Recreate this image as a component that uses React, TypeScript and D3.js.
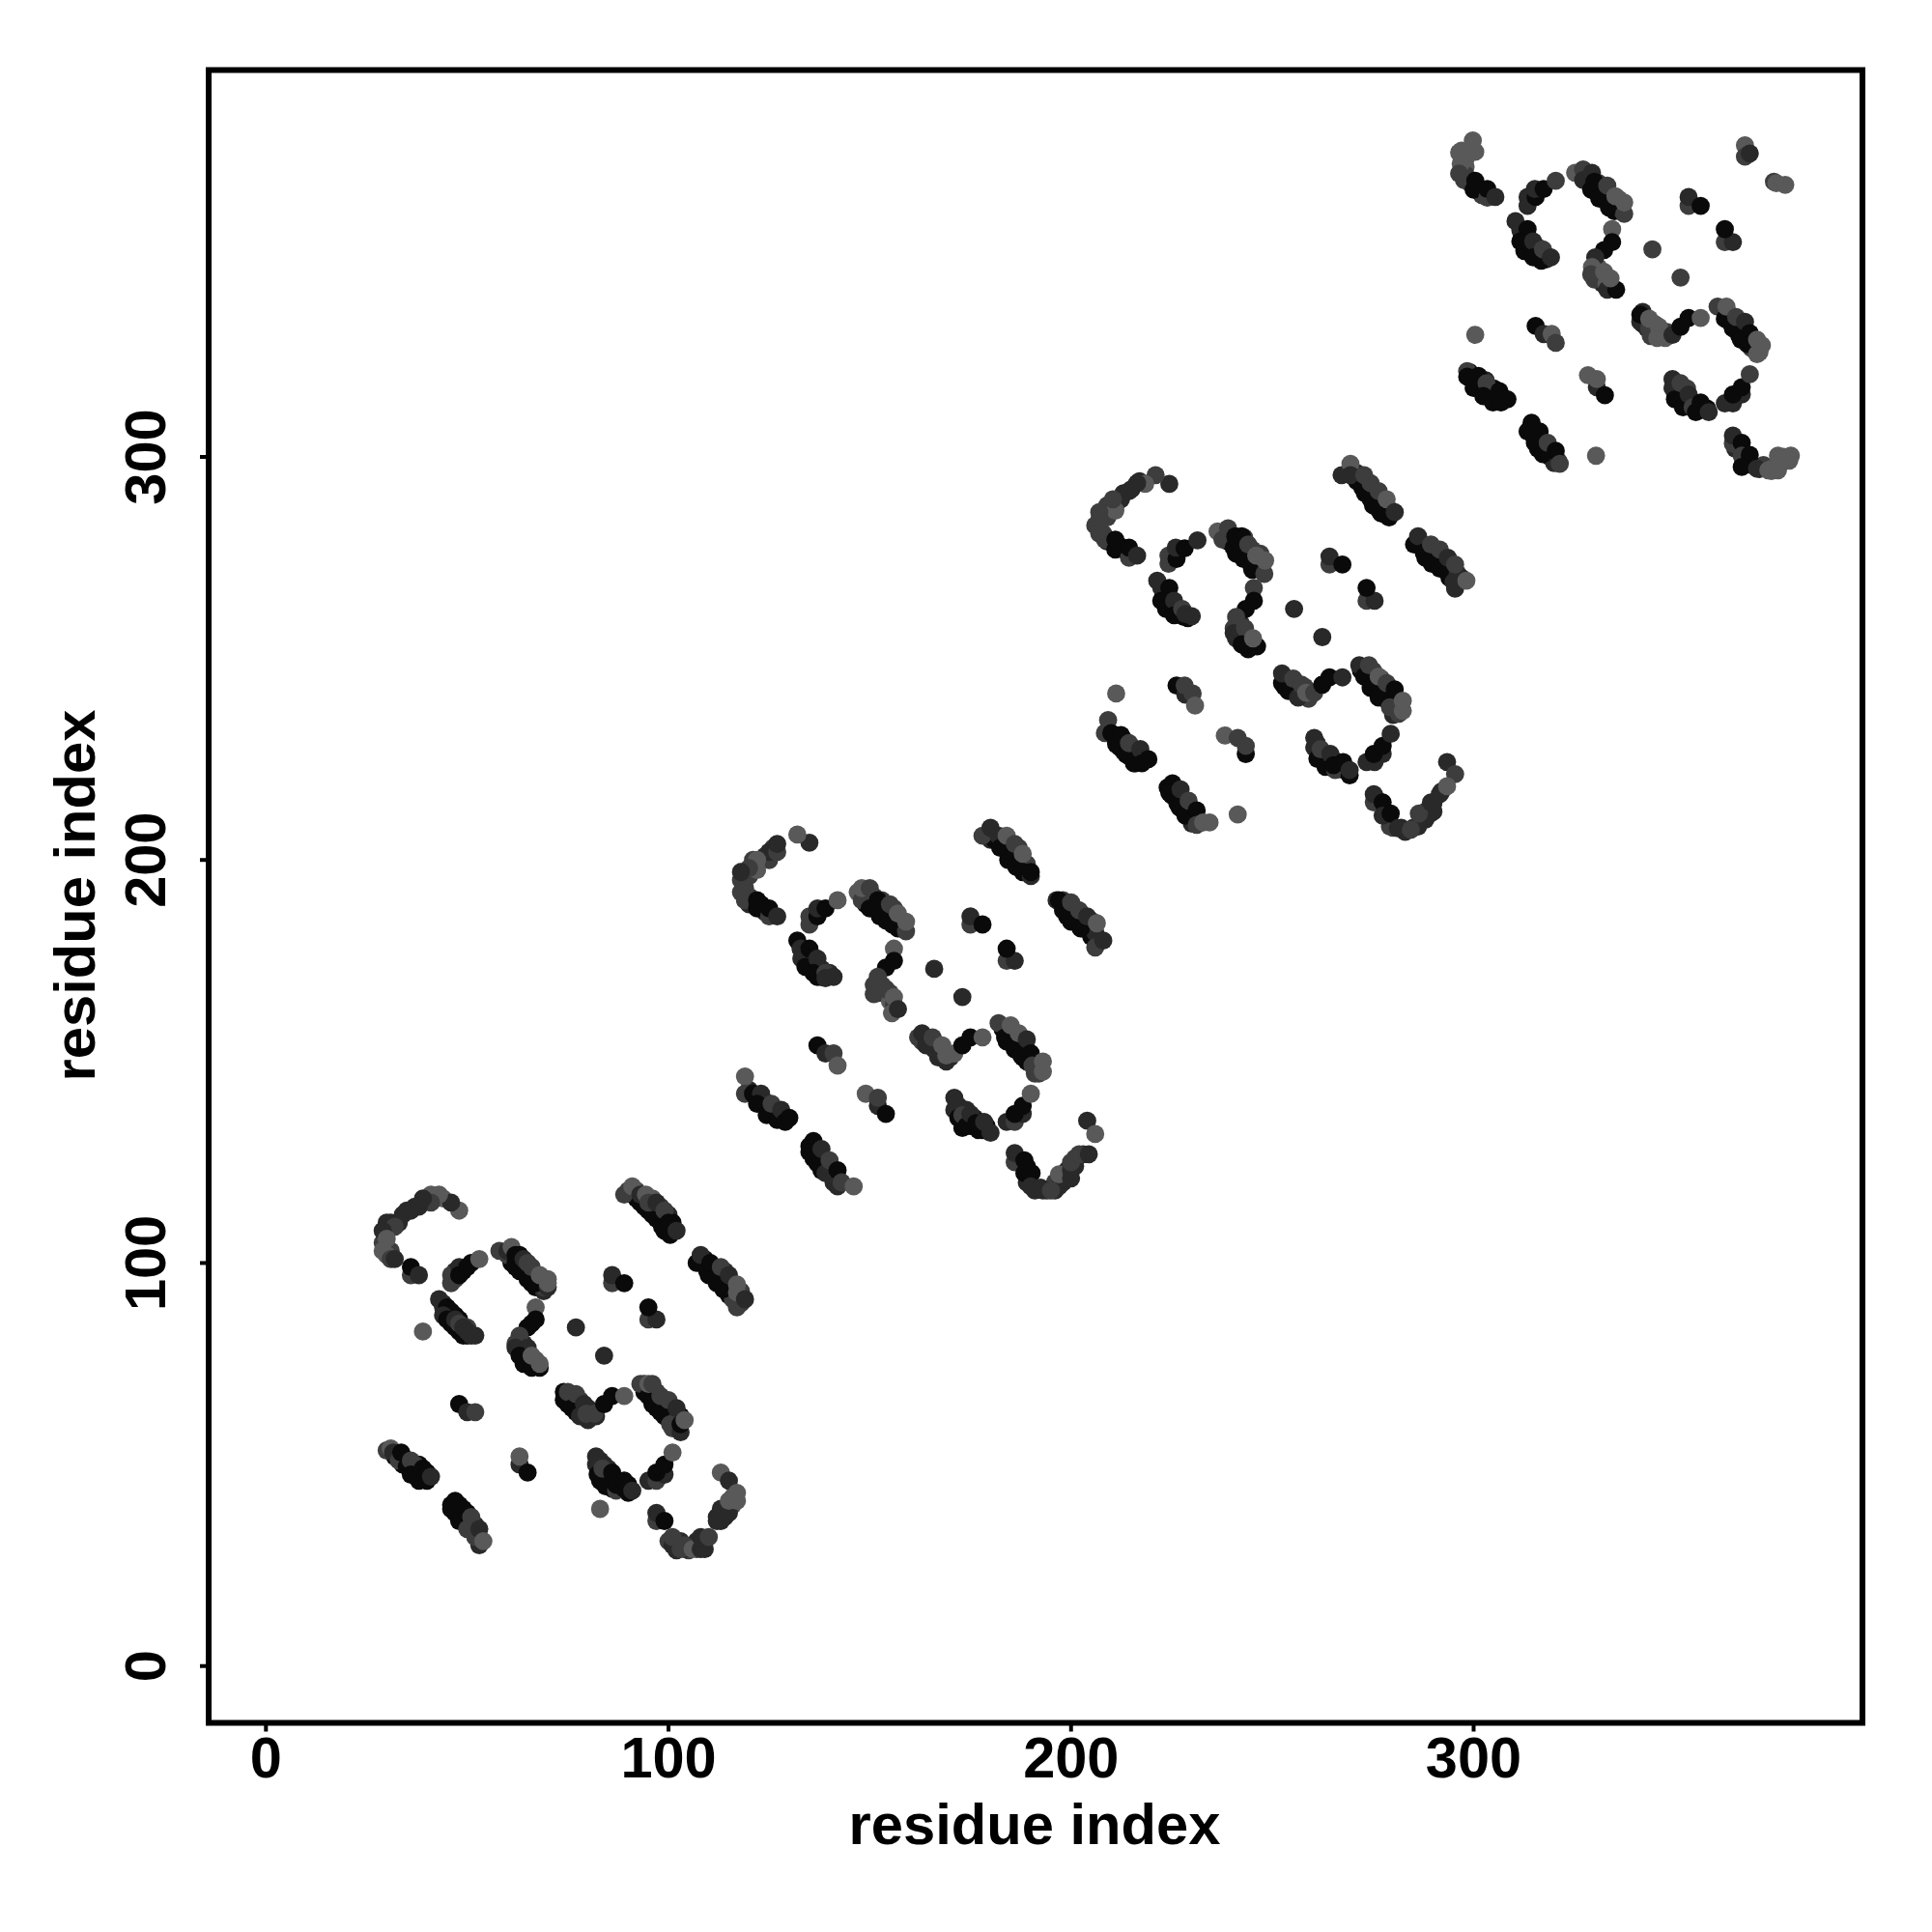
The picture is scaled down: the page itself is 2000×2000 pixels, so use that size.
import React from "react";
import * as d3 from "d3";

const K = 0.04, D = 0.16, M = 0.24, L = 0.35;
type P = [number, number, number];

const tickValues = [0, 100, 200, 300];
const axisLabel = "residue index";

const underA: P[] = [
[92,116,K],[93,115,K],[95,113,K],[97,111,K],[99,109,K],[99,108,K],[101,108,K],[90,118,M],[92,118,M],[96,116,L],[98,114,M],[100,112,D],[101,110,K],
[108,100,K],[109,101,K],[110,97,K],[111,99,K],[112,98,D],[112,95,K],[113,95,K],[114,96,D],[114,98,D],[115,92,K],[116,95,M],[116,91,M],[118,90,M],[118,93,M],
[44,89,D],[45,87,K],[46,85,K],[46,86,K],[48,83,K],[47,87,K],[48,86,K],[50,84,M],[50,82,K],
[61,103,M],[61,100,K],[62,99,K],[63,100,K],[63,98,K],[65,98,K],[65,96,K],[66,95,K],[67,97,M],[67,94,K],[68,95,K],[69,93,D],[69,96,L],[69,94,M],
[63,80,D],[64,78,K],[64,80,D],[65,76,K],[65,78,D],[67,76,L],[67,75,K],[66,85,K],
[32,52,K],[34,50,K],[34,52,K],[35,51,K],[36,49,K],[37,48,K],[38,48,K],[38,50,K],[39,47,K],[40,48,K],
[46,40,K],[47,38,K],[47,39,K],[48,40,K],[49,37,K],[49,36,M],[50,36,K],[50,38,K],[51,35,M],[52,35,D],[52,33,D],[53,32,M],
[75,66,K],[76,66,K],[77,64,K],[78,65,K],[77,63,K],[78,66,M],[80,64,D],[80,63,M],[80,61,D],[82,62,D],[75,65,K],
[94,69,K],[94,68,K],[97,68,M],[97,64,K],[97,66,K],[99,65,M],[99,62,K],[101,61,K],[101,63,D],[101,59,M],[103,62,K],[94,70,D],
[83,46,K],[85,46,K],[85,47,D],[85,49,D],[84,50,D],[83,51,D],[86,44,K],[88,44,K],[88,45,D],[90,45,K],[90,43,K],
[116,40,L],[113,36,D],[114,37,D],[114,39,D],[113,39,D],[116,42,L],[112,37,D],[100,31,M],[102,30,M],[102,28.7,D],[105,29,M],[107,29,M],[107,31,D],[109,31,D],[109,29,D],[105,28.7,M],[104,29,D],[103,31,D],
[31,110,D],[30,110,D],[34,112,D],[35,113,D],[37,114,D],[40,116,M],[42,116,M],[44,116,L],[29,105,M],[30,104,M],[31,103,M],
[47,96,M],[47,98,D],[49,98,K],[51,100,K],
];

const clusterA: P[] = [
[48,113,L],[46,115,D],[43,117,L],[41,117,L],[41,115,M],[39,116,D],[38,114,D],[36,113,D],[33,110,D],[32,109,M],[29,108,D],[30,106,L],[29,103,L],[30,102,L],[31,101,M],[32,101,D],[36,97,M],[36,99,K],[38,97,D],
[46,95,M],[46,97,M],[48,99,D],[48,97,K],[50,99,K],[53,101,L],
[43,91,D],[44,90,D],[45,89,K],[46,88,K],[44,87,D],[45,86,K],[49,82,K],[47,84,K],[47,86,D],[48,85,M],[49,84,D],[51,82,D],[50,83,D],[52,82,D],[39,83,L],
[58,103,M],[60,102,M],[60,103,D],[61,104,L],[62,100,K],[62,102,K],[63,102,K],[64,98,K],[64,101,D],[66,96,K],[65,100,M],[67,95,K],[66,99,M],[68,97,L],[70,94,D],[70,96,L],[70,95,L],
[67,89,L],[67,86,K],[65,84,K],[63,82,M],[62,80,M],[62,79,D],[65,79,D],[63,77,K],[64,75,K],[66,74,K],[68,74,K],[66,77,L],[68,75,L],
[77,84,D],[84,77,D],[86,95,M],[86,97,D],[89,95,K],[95,86,M],[97,86,D],[95,89,K],
[89,117,M],[91,119,L],[94,114,K],[93,117,D],[94.4,117,L],[96,112,K],[95,115,M],[97,115,D],[98.4,109,K],[100.4,107,K],[99,113,M],[100,110,K],[102,108,D],
[107,100,K],[108,102,D],[109.6,98,K],[110.4,100,K],[111.6,96,K],[113,99,M],[113.6,93.5,K],[115,97,D],[117,89,M],[117,94.7,L],[117,92.7,L],[119,91,D],
[48,65,K],[50,63,D],[52,63,M],
[30,53.5,M],[31,54,L],[31.6,53,D],[33,51,M],[33.6,53,K],[35,49.5,K],[36,51,M],[37,50,M],[36,47.5,K],[38,46,K],[39,49,K],[40,46,K],[41,47,D],
[47,41,K],[46,39,K],[49,39,K],[48,36,K],[51,37,M],[50,34,M],[53,30,D],[52,32,M],[53,34,D],[54,31,L],
[63,50,D],[63,52,L],[65,48,K],
[74,68,K],[74,66,K],[75,68,M],[76,64,K],[77,67.5,M],[78,62,D],[79,65,D],[79.6,62.6,M],[81.6,62.6,M],[84,65,K],[86,67,K],[89,67,L],
[93,70,M],[95,67,K],[95,70,L],[96,65,K],[96,70,M],[98,63,K],[98,67,M],[100,66,M],[100.4,60,M],[103,58,D],[103,60,K],[102,64,D],[104,61,L],
[95,46,D],[97,46,M],[99,47.5,D],[97,48,K],[99,50,K],[101,53,L],
[82,52,D],[82,50,D],[82.4,47.5,K],[83.6,49,M],[84.4,44.6,K],[87,43.5,M],[86,48,K],[87,45,K],[89,44,K],[89,46,K],[91,43.5,D],[83,39,L],
[113,48,L],[115,46,D],[112,36,D],[113,38,D],[115,38,D],[115,41,L],[117,41,L],[117,43,L],
[97,36,M],[97,38,D],[99,36,K],[101,30,D],[101,32,M],[103,29,M],[104,30,M],[106,29,L],[108,29,D],[108,32,D],[110,32,M],
];

const underB: P[] = [
[180,205,D],[181,205,K],[183,204,K],[185,202,K],[187,200,K],[188,198,K],[189,199,M],[187,203,M],[188,197,K],
[198,190,M],[199,188,K],[199,186,K],[201,185,K],[201,188,M],[203,183,K],[203,186,D],[205,181,K],[205,185,M],[206,182,D],[207,180,D],
[133,178,K],[134,176,K],[135,175,K],[136,174,K],[136,176,D],[138,173,D],[138,171,K],[140,172,D],
[149,191,K],[149,189,K],[151,191,M],[151,188,K],[153,187,K],[153,190,M],[154,185,K],[156,188,M],[157,183,K],[158,185,L],
[152,168,M],[153,169,M],[152,167,D],[155,167,M],[155,165,L],[156,164,M],
[120,143,D],[122,141,K],[123,140,K],[124,140,K],[125,137,K],[126,137,K],[127,138,D],[128,136,K],[129,136,K],
[135,129,K],[136,126,K],[137,128,K],[137,126,K],[138,125,K],[138,123,K],[139,125,M],[140,122,D],[141,123,D],[141,120,D],[142,121,M],
[163,155,M],[165,154,D],[166,153,D],[166,155,M],[168,152,D],[167,152,M],[169,150,D],[170,151,D],
[183,158,K],[184,158,K],[184,155,K],[186,156,M],[186,153,K],[188,155,M],[188,151,K],[189,150,K],[189,153,K],[191,150,M],[191,147,M],
[172,139,D],[172,137,K],[174,136,K],[174,138,D],[175,134,K],[176,136,D],[177,135,K],[178,133,K],[179,134,K],[173,133.5,K],
[203,127,D],[201,126,M],[201,124,D],[199,123,D],[198,121,D],[198,120,D],[196,120,M],[196,118,D],[194,118,D],[193,118,D],[191,118,D],[189,120,D],[189,124,K],
[119,196,M],[120,196,M],[121,198,M],[123,200,D],[124,201,D],[126,203,M],[120,191,M],[119,193,M],[123,189,K],[124,187,D],[124,188,K],[120,189,D],
];

const clusterB: P[] = [
[135,204.3,D],[132,206.3,L],[125,200,M],[125,202,D],[127,202,M],[127,204,D],[121,200,M],[122,197.5,L],[122,200,L],[120,198,M],[118,195,M],[118,197,D],[118,192,M],[119,190,M],[122,188,K],[122,190,K],[125,186,M],[125,188,K],[127,186,D],
[135,184,M],[135,186,M],[137,186,K],[137,188,D],[139,188,K],[142,190,L],
[132,180,K],[132.8,178,D],[133,175.5,D],[135,178,K],[134,173.5,K],[137,175.5,D],[136,172,K],[137,171,K],[139,172,M],[139,170.7,D],[141,171,D],
[147,192,L],[148,190,M],[148,193,L],[150,193,M],[150,188,K],[152,190,K],[152.5,186,K],[155,189,M],[155.6,184,K],[157,186.7,L],[159,182.3,M],[159,184.7,L],
[156,178,L],[156,175,K],[154,173.3,K],[152,171,M],[151,169,M],[151,166.7,M],[154,168,M],[156,166,L],[155.5,162,L],[157,163,D],
[166,173,D],[173,166,D],[175,184,M],[175,186,D],[178,184,K],[184,175,M],[186,175,D],[184,178,K],
[178,206,M],[180,208,D],[182,206,D],[182.4,203,K],[184,206,L],[184.4,200,K],[186,204,M],[186.4,198.3,K],[188,201.5,L],[190,196,D],[190,197,K],
[196.4,190,D],[197,190,K],[198,187.5,K],[200,184.7,K],[200,189.5,M],[202,187.5,M],[202.4,183,K],[204,186,D],[206,178.3,M],[206.4,184.3,L],[208,180,D],
[137,154,K],[139,152,D],[141,152,M],[142,149,L],
[119,146.3,L],[119,142,M],[121,142,K],[123,142,D],[122,139.5,K],[124.4,136.7,K],[125.6,139.5,M],[127,135.5,K],[128,138,D],[129,135,K],[130,136,K],
[136,130.3,K],[135,127.5,K],[137,124.7,K],[138,128.3,D],[139,122.3,D],[140,125.5,M],[142,123,K],[142,119,D],[143,120,M],[146,119,L],
[149,142,L],[152,139,D],[152,141,M],[154,137,K],
[162,156,M],[163,157,D],[164,154,D],[165.6,156,M],[167,151,D],[168,154,L],[169,151.5,L],[171,152,L],[173,154,K],[175,156,K],[178,156,L],
[182,159.5,M],[183.6,156,K],[185,159,L],[185.6,154,K],[187,157,L],[187.6,151.5,K],[189,155.5,D],[190,152,K],[190.4,149,M],[192,147,M],[193,150,L],[193,147.5,L],
[184,135,D],[186,135,M],[188,137,D],[186,137,K],[188,139,K],[190,142,L],
[171,141,D],[171,138,D],[172,136,K],[173,136.7,M],[174,134,K],[175,137,D],[177,133,K],[176.4,134.7,K],[178.4,135,D],[180,132.3,D],
[204,135.3,D],[206,132,L],[197,119,D],[197,122,L],[200,121,D],[200,123,D],[200,125,M],[202,127,M],[204.4,127,D],
[186,125,M],[186,127.3,D],[188.4,125.5,K],[188.4,122.3,K],[190.2,122.3,K],[190,119,D],[192.4,118.7,D],[195,118,M],
];

const underC: P[] = [
[213,291,D],[215,292,D],[217,294,D],[209,288,M],[208,286,M],[206,283,M],[207,282,M],[212,278,K],[213,277,K],[208,281,M],[209,279,D],[211,288,M],[209,285,M],
[271,294,K],[273,291,K],[275,288,K],[277,286,K],[279,285,K],[271,296,D],[275,292,M],[277,290,M],[279,287,D],
[287,278,D],[288,275,K],[290,275,K],[290,277,M],[292,275,D],[293,272,K],[294,271,K],[294,270,K],[295,269,D],[296,271,D],[297,270,D],
[223,266,K],[224,265,K],[224,263,K],[226,262,K],[226,263,D],[227,261,K],[229,260,K],
[238,281,D],[239,279,K],[241,278,K],[241,276,K],[243,276,K],[243,280,M],[245,277,M],[245,272,K],[246,273,K],[247,272,K],[247,276,M],
[241,258,M],[241,255,D],[242,256,D],[243,255,K],[244,254,K],[245,253,K],[242,259,D],
[209,232,D],[211,230,K],[213,230,K],[212,228,K],[213,227,K],[214,226,K],[215,227,K],[216,226,D],[216,224,K],[218,225,K],
[224,218,K],[225,216,K],[226,217,K],[227,215,K],[227,213,K],[228,214,D],[229,212,K],[230,212,K],[230,210,D],[230,209,D],
[253,245,M],[253,243,K],[255,242,K],[254,244,K],[256,242,D],[257,241,D],[258,243,M],[259,240,M],[259,242,M],
[272,247,K],[273,246,K],[275,247,M],[275,244,K],[277,245,M],[277,242,K],[278,240,K],[279,239,K],[279,241,K],[281,240,K],[281,238,D],[280,236,D],
[261,229,D],[262,226,K],[262,225,K],[263,225,K],[264,224,K],[265,225,K],[266,223,K],[267,222.5,K],[268,223,K],
[292,217,D],[290,214,D],[288,212,D],[288,210,D],[290,212,D],[287,210,D],[285,208,D],[283,207,D],[282,208,D],[280,208,M],[278,212,D],[276,215,M],
];

const clusterC: P[] = [
[224.4,293.3,D],[221,295.5,M],[218.4,293.3,L],[216.4,293.5,D],[214.4,291.5,D],[212.4,289.5,D],[211,286.7,L],[210.4,289.5,M],[207,286.3,M],[207,284.3,M],[207,281,M],[208.4,279.5,M],[211,277,K],[211,279.5,K],[214.4,275,M],[214.4,277.5,K],[216.4,275.5,D],
[224.2,273.5,M],[224.2,275.5,M],[226.2,274.7,K],[226,277.5,D],[228.2,277.3,K],[231.4,279.3,D],
[221.4,269.3,D],[222.4,267.5,D],[224.4,267.5,K],[222.4,264.3,K],[223.6,262.3,K],[225.6,264.3,D],[225.6,260.7,K],[228,260.3,K],[227.6,262.3,M],[228.4,261,D],[230,260.5,D],
[236.4,281.5,L],[237.6,279.5,M],[239,282.3,M],[240.4,277.5,K],[240.8,280.3,K],[242.4,280.3,K],[242.8,274.7,K],[244,278.3,M],[244.8,273,K],[246,275.5,L],[248,271,M],[248.2,274.3,L],
[245.4,267.5,M],[245.4,264.3,K],[243.4,262.3,K],[241,260.3,M],[240.4,257.5,M],[240.4,256.3,D],[243.2,257.5,M],[242.4,253.5,K],[244,252.3,K],[246.2,253,K],[245.2,255,L],
[255.4,262.3,D],[262.4,255.3,D],[264.2,273.3,M],[264.2,275.3,D],[267.4,273.3,K],[273.4,264.3,M],[275.4,264.3,D],[273.4,267.5,K],
[267.2,295.5,D],[269.4,298.3,L],[269.4,295.5,D],[272.4,292.3,K],[272.8,295.5,M],[274.4,289.5,K],[274.4,293.5,M],[276.4,287,K],[278.4,285.5,K],[276.4,291.5,M],[278.4,289.5,L],[280.4,286.3,D],
[285.2,278.3,K],[286.2,280.3,D],[287.6,276.3,K],[289.6,273.5,K],[289.4,278.3,M],[291.6,272.3,K],[291.6,277,M],[293.6,275,D],[295.4,267.3,D],[295.4,273.3,M],[298.2,269.3,L],
[211.2,241.3,L],[226.2,243.3,K],[228.4,241,D],[228.2,243.3,M],[230.2,241.3,M],[230.8,238.3,L],
[209.2,234.7,M],[208.4,231.5,M],[210,231.5,K],[211.2,228.7,K],[212.4,231,K],[213.6,226.3,K],[214.4,229,M],[215.6,224,K],[217.2,227.5,D],[217.6,224,K],[219.2,225,K],
[225.2,219,K],[224.4,216.7,K],[226.4,214,K],[227.2,217.5,D],[228.4,211,K],[229.2,214.7,M],[231.2,212.3,K],[231.2,208.7,M],[232.8,209.3,L],[234.4,209.3,L],[241.4,211.3,L],
[243.4,226.3,K],[238.2,230.9,L],[241.4,230.3,M],[243.4,228.3,M],
[252.4,243.9,K],[252.4,246.3,D],[254,241.9,K],[255.2,245,M],[256.4,240.3,D],[257.2,243.5,M],[258.4,241.5,L],[260.4,241.5,M],[262.4,243.5,K],[264.2,245.3,K],[267.4,245.3,D],
[271.6,248.3,D],[272.8,245.5,K],[274,248.3,M],[274.4,242.7,K],[276.4,240.3,K],[276.4,245.5,L],[278.4,243.9,M],[279.2,237.9,M],[281.4,236.3,M],[280.4,242.3,K],[282.4,237,L],[282.4,239.5,L],
[273.4,224.3,D],[275.4,224.3,D],[277.4,226.3,D],[275.2,226.3,K],[277.4,228.3,K],[279.4,231.3,D],
[260.4,230.3,D],[260.4,227.9,D],[261.2,225.1,K],[262,227.5,M],[263.2,223.1,K],[264.4,226.3,D],[265.6,222.3,M],[265.2,223.5,K],[267.6,224.3,K],[269.2,221,K],[269.2,222.3,D],
[293.4,224.3,D],[295.4,221.3,M],[286.2,208.3,D],[289.2,211.5,D],[286.4,211.5,M],[289.4,214.3,D],[291.6,216.3,D],[293.4,218.3,L],
[275.2,214.3,M],[275.2,216.3,D],[277.4,214.3,K],[279.2,208.3,M],[277.4,211,D],[279.4,211.5,K],[281.2,207.9,D],[284.4,207.5,M],
];

const underD: P[] = [
[298,372,L],[298,375,L],[299,376,L],[297,371,M],[298,376,L],[301,367,K],[302,366,D],[302,365,M],[298,370,M],[299,368,M],[298,374,L],[297,376,L],
[312,355,K],[313,354,K],[313,352,K],[315,351,K],[316,350,D],[316,352,D],[318,350,D],[318,349,D],
[328,369,K],[330,366,K],[331,368,M],[332,365,K],[332,366,D],[334,363,K],[335,361,K],[336,362,K],[336,364,L],[337,361,M],
[330,347,M],[331,346,L],[332,343,D],[332,344,D],[331,347,L],[330,344,M],[333,343,L],[334,342,D],
[299,321,K],[300,319,K],[301,318,K],[302,317,K],[303,316,K],[303,319,D],[304,316,M],[305,315,K],[305,317,K],[307,315,K],[306,314,K],
[314,307,K],[315,305,K],[316,305,K],[316,302,K],[317,304,K],[318,301,K],[319,302,D],[319,300,K],[320,300,D],[321,299,D],[320,298.5,D],
[342,333,K],[343,332,D],[344,330,M],[345,331,D],[345,333,L],[347,331,L],[348,331,M],[342,336,D],
[363,336,K],[364,333,K],[364,335,K],[366,332,K],[366,330,K],[367,331,K],[369,329,D],[369,327,M],[371,326,L],[368,328,K],
[350,316,K],[351,315,K],[353,313,K],[352,316,M],[353,317,M],[354,314,K],[355,313,D],[357,312,D],[358,312,K],
[365,302,D],[367,299,K],[368,299,K],[369,298,D],[371,297,D],[372,298,M],[374,297,L],[374,296.5,L],[376,298,L],[377,300,L],[367,298,M],
];

const clusterD: P[] = [
[299.8,378.5,L],[296.4,375.5,L],[300.4,375.7,L],[296.8,372.7,L],[296.4,370.3,M],[297.6,368.7,M],[300,366.3,K],[300.4,368.5,K],[303.4,364.3,M],[303.4,366.5,K],[305.4,364.5,D],
[313.4,362.3,D],[313.4,364.5,D],[315.4,364.5,K],[315.2,366.5,D],[317.4,366.5,K],[320.4,368.5,M],
[310.4,358.5,D],[311.6,356.3,D],[313.4,356.5,K],[311.6,353.5,K],[312.6,351.1,K],[314.8,353.5,D],[314.8,349.5,K],[316.8,348.7,K],[317.2,351.5,M],[319.2,349.5,D],
[325.2,370.5,L],[327.2,371.3,M],[327.2,368.7,D],[329.4,370.5,D],[329.2,366.3,K],[330,368.3,K],[331.2,364.1,K],[333.2,367.3,M],[333.6,361.9,K],[335.2,364.7,L],[337.4,360.3,M],[337.4,363.1,L],
[334.4,356.5,L],[334.4,353.3,K],[332.4,351.3,K],[330.2,349.5,D],[329.4,347.1,L],[329.2,345.3,M],[333.2,341.5,D],[335.4,341.5,K],[332.4,345.9,L],[334,344.3,L],
[344.4,351.5,M],[351.4,344.5,M],[353.4,362.3,M],[353.4,364.5,D],[356.4,362.3,K],[362.4,353.3,M],[364.4,353.3,D],[362.4,356.5,K],
[367.4,377.3,L],[367.4,374.5,M],[368.6,375.3,D],[374.6,368.3,M],[375.2,367.9,L],[377.4,367.5,L],
[300.4,330.3,L],[315.4,332.5,K],[317.4,330.5,D],[319.4,330.5,L],[320.4,328.3,M],
[298.4,321.3,M],[298.4,319.9,K],[301.2,320.1,K],[300,317.1,K],[303.2,318.3,M],[302.4,315.1,K],[304.8,313.5,K],[306.8,313.5,K],[306.4,316.3,K],[308.4,314.3,K],
[314.4,308.5,K],[313.4,306.3,K],[316.4,306.3,K],[315.2,303.5,K],[317.2,300.7,K],[318.4,303.5,M],[320.4,301.5,K],[321.4,298.3,M],[330.4,300.3,L],
[330.6,317.3,D],[328.4,320.3,L],[330.6,319.3,L],[332.6,315.3,K],
[341.4,333.5,D],[341.4,335.3,K],[343.6,331.9,M],[343.6,334.3,L],[345.6,329.5,L],[346,332.3,L],[347.6,329.5,L],[349.4,330.3,D],[351.4,332.3,K],[353.4,334.5,K],[356.4,334.5,L],
[360.6,337.3,M],[362.4,334.3,K],[362.8,337.3,L],[364.4,331.9,K],[365.2,334.7,M],[366.4,329.1,K],[367.4,333.5,D],[368.6,330.7,K],[370.4,325.5,L],[370.4,329.1,L],[371.6,327.7,L],
[362.4,313.3,D],[364.4,313.3,D],[366.6,315.5,D],[364.4,315.5,K],[366.6,317.3,K],[368.6,320.5,M],
[349.4,319.3,D],[349.4,317.1,D],[350,314.3,K],[351.4,318.3,M],[352,312.3,K],[353.4,315.5,D],[354.4,312.3,M],[355.2,311.1,K],[356.4,313.5,K],[358.4,311.1,D],
[364.4,303.3,M],[364.4,305.3,D],[366.6,303.5,K],[366.6,300.3,M],[368.6,300.5,K],[366.6,297.5,K],[370.4,297.1,D],[373.2,296.7,L],[375.6,296.7,L],[375.6,300.3,L],[378.4,299.1,L],[378.8,300.3,L],
];

const layers = [underA, clusterA, underB, clusterB, underC, clusterC, underD, clusterD];

const x = d3.scaleLinear().domain([0, 300]).range([275.3, 1525.5]);
const y = d3.scaleLinear().domain([0, 300]).range([1724.7, 473]);
const shade = d3.scaleLinear<string>().domain([0, 1]).range(["#000000", "#ffffff"]);

const frame = { left: 216, right: 1928, top: 72.5, bottom: 1783.5 };
const font = "'Liberation Sans', Arial, sans-serif";

export default function App() {
  return (
    <svg width={2000} height={2000} viewBox="0 0 2000 2000"
      style={{ position: "absolute", left: 0, top: 0, background: "#fff" }}>
      {layers.map((c, i) => (
        <g key={i}>
          {c.map((p, j) => (
            <circle key={j} cx={x(p[0])} cy={y(p[1])} r={9.4} fill={shade(p[2])} />
          ))}
        </g>
      ))}
      <rect x={frame.left} y={frame.top} width={frame.right - frame.left} height={frame.bottom - frame.top}
        fill="none" stroke="#000" strokeWidth={6} />
      {tickValues.map((t) => (
        <g key={t} fontFamily={font} fontWeight={700} fontSize={59.5}>
          <line x1={x(t)} x2={x(t)} y1={frame.bottom} y2={frame.bottom + 9} stroke="#000" strokeWidth={4} />
          <text x={x(t)} y={1840} textAnchor="middle">{t}</text>
          <line y1={y(t)} y2={y(t)} x1={frame.left} x2={frame.left - 9} stroke="#000" strokeWidth={4} />
          <text transform={`translate(171,${y(t)}) rotate(-90)`} textAnchor="middle">{t}</text>
        </g>
      ))}
      <text x={1071} y={1909} textAnchor="middle" fontFamily={font} fontWeight={700} fontSize={59.7}>{axisLabel}</text>
      <text transform="translate(98,927) rotate(-90)" textAnchor="middle" fontFamily={font} fontWeight={700} fontSize={59.7}>{axisLabel}</text>
    </svg>
  );
}
